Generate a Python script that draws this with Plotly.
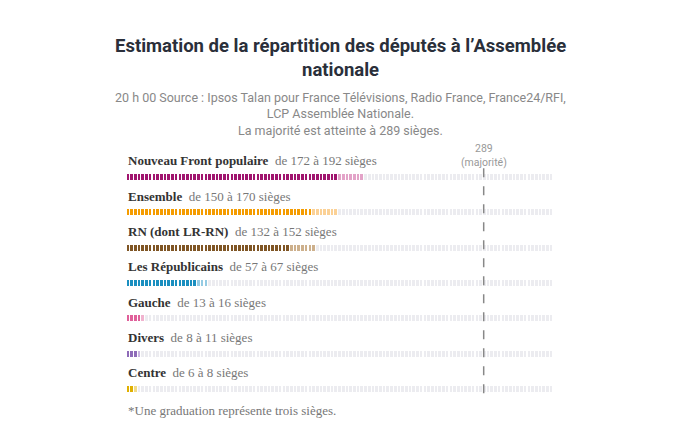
import plotly.graph_objects as go

parties = ["Nouveau Front populaire", "Ensemble", "RN (dont LR-RN)", "Les Républicains", "Gauche", "Divers", "Centre"]
seat_min = [172, 150, 132, 57, 13, 8, 6]
seat_max = [192, 170, 152, 67, 16, 11, 8]
dark = ["#a0146e", "#f59c00", "#7f5524", "#1a8fc0", "#e0609a", "#8e6bb8", "#e0b000"]
light = ["#e3a3c8", "#fbd196", "#cdb08c", "#95cbe3", "#f1b3cf", "#c9b5e0", "#f1dc8a"]
majority = 289
seats_per_tick = 3
axis_max = 345
n_ticks = 142

OFF = 8  # page body margin
fig = go.Figure()
px_per_unit = 35.33
for i, p in enumerate(parties):
    xs_d, xs_l, xs_g = [], [], []
    nd = round(seat_min[i] / seats_per_tick)
    nl = round(seat_max[i] / seats_per_tick)
    for t in range(n_ticks):
        x = t * seats_per_tick + 1.5
        if t < nd:
            xs_d.append(x)
        elif t < nl:
            xs_l.append(x)
        else:
            xs_g.append(x)
    for xs, c in [(xs_d, dark[i]), (xs_l, light[i]), (xs_g, "#ececf0")]:
        if xs:
            fig.add_trace(go.Bar(x=xs, y=[0.17] * len(xs), base=[i - 0.085] * len(xs),
                                 width=2.1, marker=dict(color=c, line_width=0),
                                 hoverinfo="skip", showlegend=False))
    fig.add_annotation(x=0, y=i - 0.46, xref="x", yref="y", xanchor="left", yanchor="middle",
                       showarrow=False,
                       text=f"<b>{p}</b>  <span style='color:#777'>de {seat_min[i]} à {seat_max[i]} sièges</span>",
                       font=dict(family="Liberation Serif, DejaVu Serif", size=13, color="#333"))

fig.add_shape(type="line", x0=majority, x1=majority, y0=-0.25, y1=6.3, xref="x", yref="y",
              line=dict(color="#888", width=1.5, dash="dash"))
fig.add_annotation(x=majority, y=-0.62, xref="x", yref="y", showarrow=False,
                   text=f"{majority}<br>(majorité)", font=dict(family="Roboto", size=10.5, color="#999"))
fig.add_annotation(x=0, y=6.62, xref="x", yref="y", xanchor="left", showarrow=False,
                   text="*Une graduation représente trois sièges.",
                   font=dict(family="Liberation Serif, DejaVu Serif", size=13, color="#777"))

fig.add_annotation(x=(340 - OFF) / 680, y=1 - (58 - OFF) / 446, xref="paper", yref="paper", showarrow=False,
                   yanchor="middle",
                   text="<b>Estimation de la répartition des députés à l’Assemblée<br>nationale</b>",
                   font=dict(family="Roboto", size=18.5, color="#2a2f3a"))
fig.add_annotation(x=(340 - OFF) / 680, y=1 - (114 - OFF) / 446, xref="paper", yref="paper", showarrow=False,
                   yanchor="middle",
                   text="20 h 00 Source : Ipsos Talan pour France Télévisions, Radio France, France24/RFI,<br>LCP Assemblée Nationale.<br>La majorité est atteinte à 289 sièges.",
                   font=dict(family="Roboto", size=12.5, color="#888"))

fig.update_layout(
    width=680, height=446, margin=dict(l=0, r=0, t=0, b=0),
    paper_bgcolor="white", plot_bgcolor="rgba(0,0,0,0)", barmode="overlay", bargap=0,
    xaxis=dict(domain=[(126 - OFF) / 680, (553 - OFF) / 680], range=[0, axis_max], visible=False, fixedrange=True),
    yaxis=dict(domain=[0, 1], range=[6 + (446 - 389 + OFF) / px_per_unit, -(177 - OFF) / px_per_unit],
               visible=False, fixedrange=True),
)
fig.write_html("out.html")
